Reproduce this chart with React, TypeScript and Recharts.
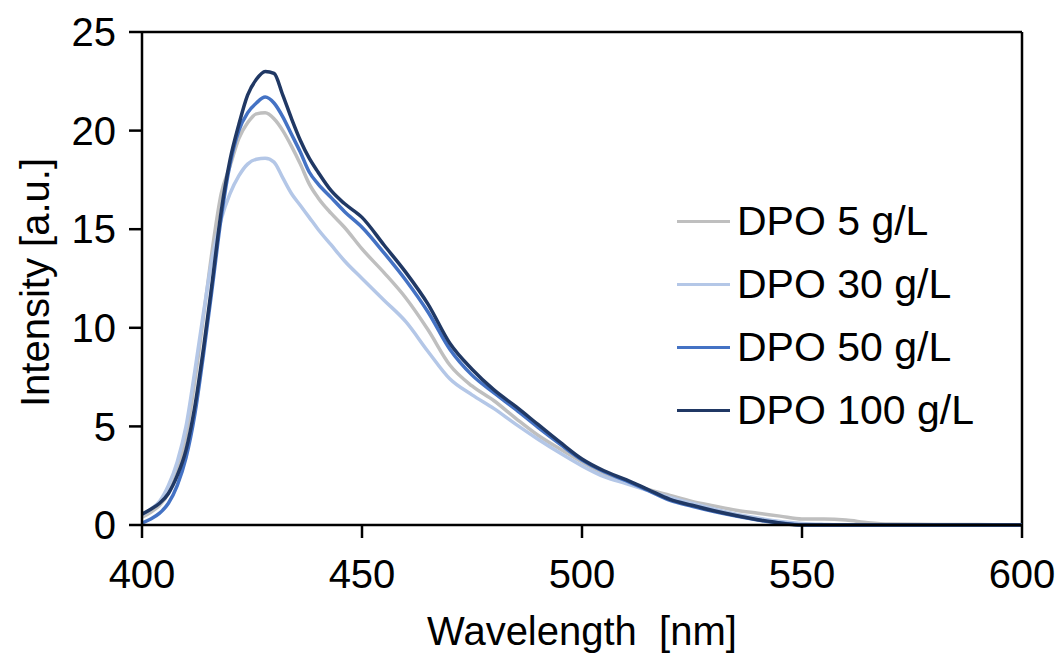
import { LineChart, Line, XAxis, YAxis, ReferenceLine } from "recharts";

const wavelengths = [
  400, 402, 404, 406, 408, 410, 412, 414, 416, 418, 420, 422, 424, 426, 428, 430, 432, 434, 436, 438, 440,
  443, 446, 450, 455, 460, 465, 470, 475, 480, 485, 490, 495, 500, 505, 510, 515, 520, 525, 530, 535, 540,
  545, 550, 555, 560, 565, 570, 580, 590, 600,
];

const dpo5 = [
  0.4, 0.65, 1.0, 1.6, 2.7, 4.5, 7.3, 10.6, 14.0, 16.8, 18.2, 19.6, 20.4, 20.85, 20.9, 20.6, 20.0, 19.2, 18.3, 17.3, 16.6,
  15.8, 15.1, 14.0, 12.8, 11.5, 9.9, 8.1, 7.05, 6.3, 5.4, 4.55, 3.85, 3.2, 2.6, 2.2, 1.8, 1.5, 1.2, 0.97, 0.75, 0.6,
  0.45, 0.3, 0.3, 0.25, 0.12, 0.05, 0.03, 0.02, 0,
];

const dpo30 = [
  0.5, 0.8, 1.2, 2.0, 3.2, 5.0, 7.8, 10.8, 13.6, 15.5, 16.8, 17.7, 18.3, 18.55, 18.6, 18.4, 17.6, 16.8, 16.2, 15.6, 15.0,
  14.2, 13.4, 12.5, 11.4, 10.3, 8.8, 7.4, 6.6, 5.9, 5.1, 4.35, 3.65, 3.0, 2.45, 2.1, 1.75, 1.4, 1.1, 0.82, 0.55, 0.35,
  0.18, 0.08, 0.03, 0, 0, 0, 0, 0, 0,
];

const dpo50 = [
  0.1, 0.3, 0.6, 1.1, 2.0, 3.4, 5.6, 8.7, 12.1, 15.6, 18.3, 20.0, 20.9, 21.4, 21.7, 21.4, 20.7, 19.8, 18.9, 17.9, 17.3,
  16.6, 15.9, 15.1, 13.8, 12.4, 10.8, 8.9, 7.6, 6.7, 5.85, 4.95, 4.1, 3.3, 2.7, 2.25, 1.75, 1.25, 0.95, 0.68, 0.45, 0.25,
  0.1, 0, 0, 0, 0, 0, 0, 0, 0,
];

const dpo100 = [
  0.55, 0.8, 1.1, 1.6, 2.5, 3.8, 6.0, 9.0, 12.4, 15.9, 18.5, 20.3, 21.8, 22.6, 23.0, 22.9, 21.8, 20.6, 19.5, 18.6, 17.9,
  16.95, 16.3, 15.6, 14.2, 12.8, 11.2, 9.2, 7.9, 6.85, 6.0, 5.1, 4.2, 3.35, 2.75, 2.3, 1.8, 1.3, 1.0, 0.72, 0.48, 0.27,
  0.1, 0, 0, 0, 0, 0, 0, 0, 0,
];

const xTicks = [400, 450, 500, 550, 600];
const yTicks = [0, 5, 10, 15, 20, 25];

const series = [
  { key: "dpo5", name: "DPO 5 g/L", color: "#BFBFBF" },
  { key: "dpo30", name: "DPO 30 g/L", color: "#B4C7E7" },
  { key: "dpo50", name: "DPO 50 g/L", color: "#4472C4" },
  { key: "dpo100", name: "DPO 100 g/L", color: "#203864" },
];

const data = wavelengths.map((w, i) => ({
  w,
  dpo5: dpo5[i],
  dpo30: dpo30[i],
  dpo50: dpo50[i],
  dpo100: dpo100[i],
}));

const FONT = "'Liberation Sans', Arial, sans-serif";
const tickStyle = { fill: "#000", fontSize: 40, fontFamily: FONT };

const YTitle = (props: any) => {
  const cx = 35;
  const cy = props.viewBox ? props.viewBox.y + props.viewBox.height / 2 + 4 : 283;
  return (
    <text
      x={cx}
      y={cy}
      transform={`rotate(-90 ${cx} ${cy})`}
      textAnchor="middle"
      dominantBaseline="central"
      fontSize={40}
      fontFamily={FONT}
      fill="#000"
    >
      Intensity [a.u.]
    </text>
  );
};

const XTitle = (props: any) => {
  const cx = props.viewBox ? props.viewBox.x + props.viewBox.width / 2 : 582;
  return (
    <text x={cx} y={645} textAnchor="middle" fontSize={40} fontFamily={FONT} fill="#000">
      {"Wavelength\u00A0 [nm]"}
    </text>
  );
};

const App = () => {
  return (
    <div style={{ position: "absolute", left: 0, top: 0, width: 1064, height: 653, background: "#fff" }}>
      <LineChart width={1064} height={653} data={data} margin={{ top: 32, right: 42, bottom: 0, left: 0 }}>
        <XAxis
          dataKey="w"
          type="number"
          domain={[400, 600]}
          ticks={xTicks}
          height={128}
          tick={tickStyle}
          tickSize={13}
          tickMargin={22}
          stroke="#000"
          strokeWidth={2.5}
          label={XTitle}
        />
        <YAxis
          type="number"
          domain={[0, 25]}
          ticks={yTicks}
          width={142}
          tick={tickStyle}
          tickSize={13}
          tickMargin={13}
          stroke="#000"
          strokeWidth={2.5}
          label={YTitle}
        />
        <ReferenceLine y={25} stroke="#000" strokeWidth={2.5} />
        <ReferenceLine x={600} stroke="#000" strokeWidth={2.5} />
        {series.map((s) => (
          <Line
            key={s.key}
            type="monotone"
            dataKey={s.key}
            name={s.name}
            stroke={s.color}
            strokeWidth={3.5}
            dot={false}
            isAnimationActive={false}
          />
        ))}
      </LineChart>
      <div style={{ position: "absolute", left: 677, top: 190, fontFamily: FONT, fontSize: 41, color: "#000" }}>
        {series.map((s) => (
          <div key={s.key} style={{ display: "flex", alignItems: "center", height: 63 }}>
            <div style={{ width: 53, height: 3.5, background: s.color, marginRight: 7 }} />
            <span style={{ lineHeight: "63px", whiteSpace: "nowrap" }}>{s.name}</span>
          </div>
        ))}
      </div>
    </div>
  );
};

export default App;
